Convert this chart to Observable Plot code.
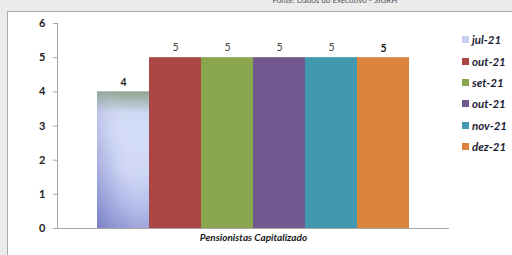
<!DOCTYPE html>
<html><head><meta charset="utf-8">
<script src="https://cdn.jsdelivr.net/npm/d3@7"></script>
<script src="https://cdn.jsdelivr.net/npm/@observablehq/plot@0.6"></script>
<style>
html,body{margin:0;padding:0;width:512px;height:255px;overflow:hidden;background:#ebebeb;font-family:Lato,"Open Sans",sans-serif;}
#panel{position:absolute;left:7px;top:11px;width:505px;height:244px;background:#fff;border-left:1px solid #a9a9a9;border-top:1px solid #a9a9a9;}
#src{position:absolute;left:270px;top:-5px;width:130px;text-align:center;font-size:8px;color:#555;white-space:nowrap;}
#chart{position:absolute;left:0;top:0;}
#legend{position:absolute;left:462px;top:29px;}
.li{height:21.4px;display:flex;align-items:center;font-weight:bold;font-style:italic;font-size:11.5px;color:#1c1c34;}
.sw{width:7px;height:7px;margin-right:3px;}
</style></head>
<body>
<div id="src">Fonte: Dados do Executivo - SIGRH</div>
<div id="panel"></div>
<div id="chart"></div>
<div id="legend"></div>
<script>
const category = "Pensionistas Capitalizado";
const series = ["jul-21", "out-21", "set-21", "out-21", "nov-21", "dez-21"];
const values = [4, 5, 5, 5, 5, 5];
const yTicks = [0, 1, 2, 3, 4, 5, 6];

const colors = ["url(#g0)", "#AA4643", "#89A54E", "#71588F", "#4198AF", "#DB843D"];
const swatch = ["#c8d0f2", "#AA4643", "#89A54E", "#71588F", "#4198AF", "#DB843D"];

const data = series.map((s, i) => ({i, s, v: values[i], c: colors[i], bold: i === 0 || i === series.length - 1}));

const defs = () => {
  const svg = d3.create("svg:g");
  const df = svg.append("defs");
  const g = df.append("linearGradient").attr("id", "g0")
    .attr("x1", 0).attr("y1", 0).attr("x2", 0).attr("y2", 1);
  [[0, "#8ea48e"], [0.06, "#a7b7b4"], [0.16, "#d0d9f3"], [0.3, "#d4ddf9"], [0.6, "#cfd7f6"], [0.85, "#b4bbea"], [1, "#9aa0d8"]]
    .forEach(([o, c]) => g.append("stop").attr("offset", o).attr("stop-color", c));
  const h = df.append("linearGradient").attr("id", "g1")
    .attr("x1", 0).attr("y1", 1).attr("x2", 0.8).attr("y2", 0.5);
  [[0, "#6f76bf", 0.75], [0.5, "#8b91d0", 0.25], [1, "#ffffff", 0]]
    .forEach(([o, c, a]) => h.append("stop").attr("offset", o).attr("stop-color", c).attr("stop-opacity", a));
  return svg.node();
};

const chart = Plot.plot({
  width: 512, height: 255,
  marginLeft: 57, marginRight: 63, marginTop: 23, marginBottom: 27,
  style: {background: "transparent", fontFamily: "Lato, 'Open Sans', sans-serif"},
  x: {type: "band", domain: data.map(d => d.i), padding: 0, insetLeft: 40, insetRight: 40, axis: null},
  y: {domain: [0, 6], ticks: yTicks, label: null},
  marks: [
    defs,
    Plot.barY(data, {x: "i", y: "v", fill: "c"}),
    Plot.barY(data.slice(0, 1), {x: "i", y: "v", fill: "url(#g1)"}),
    Plot.frame({anchor: "left", stroke: "#a6a6a6"}),
    Plot.ruleY([0], {stroke: "#a6a6a6"}),
    Plot.axisY({ticks: yTicks, tickFormat: "d", tickSize: 4, tickPadding: 8, stroke: "#a6a6a6", fill: "#222", fontSize: 11, fontWeight: "bold", label: null}),
    Plot.text(data.filter(d => d.bold), {x: "i", y: "v", text: d => String(d.v), dy: -9, fontSize: 10.5, fontWeight: "bold", fill: "#222"}),
    Plot.text(data.filter(d => !d.bold), {x: "i", y: "v", text: d => String(d.v), dy: -10, fontSize: 10.5, fill: "#444"}),
    Plot.text([category], {text: d => d, frameAnchor: "bottom", dy: 12, fontSize: 10, fontWeight: "bold", fontStyle: "italic", fill: "#1a1a1a"})
  ]
});
document.getElementById("chart").appendChild(chart);

const leg = document.getElementById("legend");
series.forEach((s, i) => {
  const d = document.createElement("div");
  d.className = "li";
  d.innerHTML = `<span class="sw" style="background:${swatch[i]}"></span>${s}`;
  leg.appendChild(d);
});
</script>
</body></html>
